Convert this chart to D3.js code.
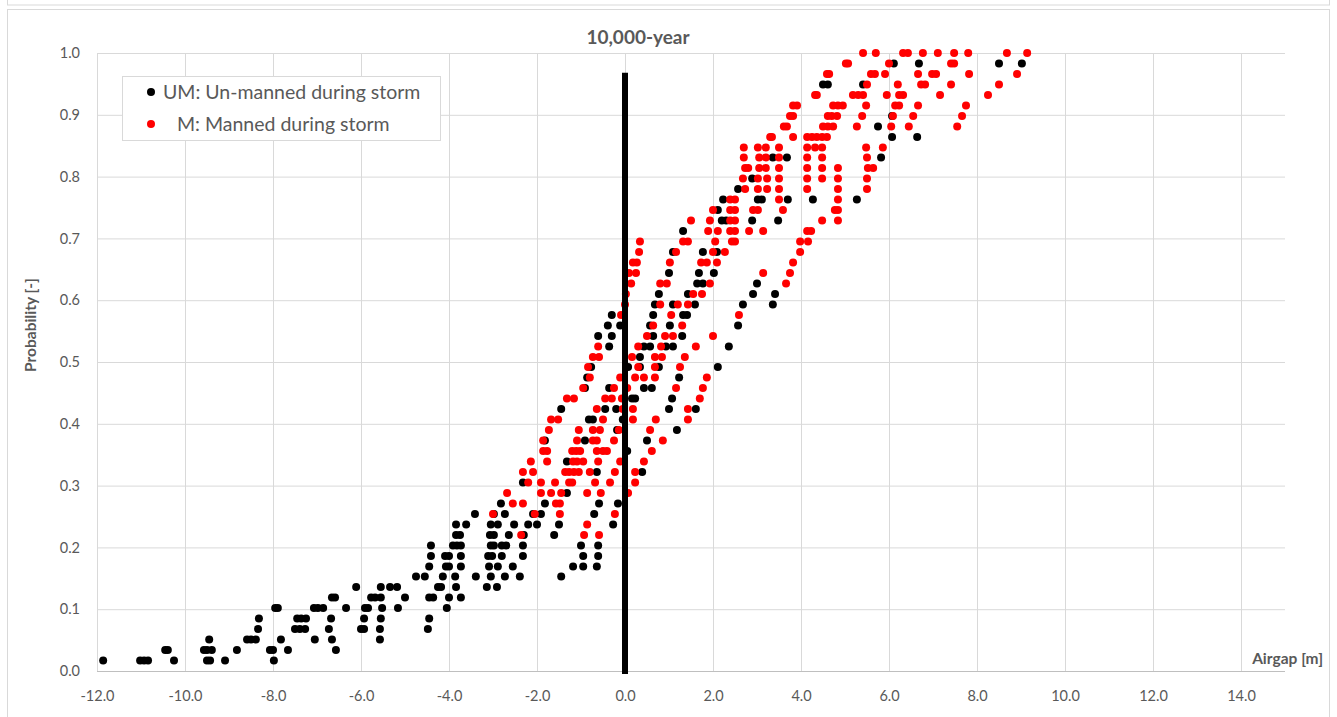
<!DOCTYPE html>
<html>
<head>
<meta charset="utf-8">
<script src="https://cdn.jsdelivr.net/npm/d3@7"></script>
<style>
	body { margin: 0; background: #fff; }
	svg { display: block; font-family: Lato, "Open Sans", sans-serif; }
</style>
</head>
<body>
<svg id="chart"></svg>
<script>
// probability levels (rows of the cumulative distribution, i/59)
const probLevels = [
	0.017, 0.034, 0.051, 0.068, 0.085, 0.102, 0.119, 0.136, 0.153, 0.169,
	0.186, 0.203, 0.220, 0.237, 0.254, 0.271, 0.288, 0.305, 0.322, 0.339,
	0.356, 0.373, 0.390, 0.407, 0.424, 0.441, 0.458, 0.475, 0.492, 0.508,
	0.525, 0.542, 0.559, 0.576, 0.593, 0.610, 0.627, 0.644, 0.661, 0.678,
	0.695, 0.712, 0.729, 0.746, 0.763, 0.780, 0.797, 0.814, 0.831, 0.847,
	0.864, 0.881, 0.898, 0.915, 0.932, 0.949, 0.966, 0.983, 1.000,
];

// UM: airgap values [m] found at each probability level
const umAirgap = [
	[-11.86, -11.02, -10.93, -10.84, -10.25, -9.5, -9.43, -9.09, -7.98],
	[-10.45, -10.39, -9.57, -9.5, -9.39, -8.82, -8.07, -8.0, -7.66, -6.57],
	[-9.45, -8.59, -8.5, -8.39, -7.82, -7.05, -6.66, -5.57],
	[-8.34, -7.5, -7.39, -7.27, -6.73, -6.0, -5.93, -5.57, -4.48],
	[-8.32, -7.45, -7.36, -7.25, -6.68, -5.93, -5.55, -4.45],
	[-7.95, -7.89, -7.07, -6.98, -6.86, -6.34, -5.91, -5.84, -5.52, -5.16, -4.05],
	[-6.66, -6.59, -5.77, -5.68, -5.55, -5.0, -4.45, -4.36, -4.0, -3.73],
	[-6.11, -5.55, -5.34, -5.18, -4.25, -4.18, -3.84, -3.14, -2.91],
	[-4.75, -4.55, -4.14, -3.86, -3.39, -3.05, -2.73, -2.39, -1.45],
	[-4.45, -4.07, -4.0, -3.73, -3.09, -2.89, -2.55, -1.18, -0.95, -0.64],
	[-4.41, -4.09, -4.0, -3.73, -3.11, -3.02, -2.8, -2.32, -0.95, -0.61],
	[-4.41, -3.91, -3.82, -3.73, -3.05, -2.98, -2.8, -2.7, -2.32, -1.0, -0.61],
	[-3.84, -3.75, -3.07, -2.98, -2.64, -2.3, -1.61],
	[-3.84, -3.61, -3.05, -2.89, -2.52, -2.2, -2.0, -1.5, -0.27],
	[-3.41, -2.98, -2.73, -2.09, -1.91, -0.7],
	[-2.82, -1.82, -0.59, -0.16],
	[-1.32],
	[-2.32],
	[-0.64, 0.39],
	[-1.32],
	[0.05],
	[-1.82, -0.91, 0.5],
	[-0.18, 1.18],
	[-0.82, -0.73, -0.05],
	[-1.45, -0.45, -0.2, 1.0, 1.61],
	[0.16, 0.23, 1.07],
	[-0.91, -0.36, 0.43, 0.61],
	[-0.86, 1.23],
	[-0.77, 0.07, 0.34, 0.77, 2.11],
	[0.34],
	[-0.36, 0.43, 0.57, 0.93, 1.09, 2.36],
	[-0.61, -0.3, 0.64, 1.3],
	[-0.39, -0.11, 0.57, 1.02, 2.57],
	[-0.3, 0.64, 1.32, 1.41],
	[0.68, 1.09, 1.59, 2.68, 3.36],
	[0.77, 1.43, 2.91, 3.41],
	[1.64, 1.77, 3.0],
	[1.0, 1.68, 2.02],
	[],
	[1.09, 1.77, 2.09],
	[],
	[1.32],
	[2.2, 2.3, 2.89, 3.48],
	[2.11],
	[2.23, 3.02, 3.11, 3.7, 4.27, 5.27],
	[2.57],
	[2.89],
	[],
	[3.36, 3.68, 5.82],
	[],
	[6.07, 6.64],
	[5.75],
	[6.07],
	[],
	[],
	[4.5, 4.61, 5.41],
	[],
	[6.11, 6.68, 8.5, 9.02],
	[],
];

// M: airgap values [m] found at each probability level
const mAirgap = [
	[], [], [], [], [], [], [], [], [], [], [], [],
	[-2.36, -0.93, -0.59],
	[-0.86],
	[-3.0, -2.05, -1.48, -0.23],
	[-2.55, -2.32, -1.57, -1.48],
	[-2.68, -1.91, -1.68, -1.45, -0.86, -0.55, 0.07],
	[-2.2, -1.91, -1.59, -1.27, -1.2, -0.68, -0.34, 0.23],
	[-2.32, -2.09, -1.36, -1.27, -1.16, -1.05, -0.8, -0.23, 0.23],
	[-2.14, -1.77, -1.18, -1.09, -0.95, -0.61, -0.11, 0.43],
	[-1.86, -1.77, -1.2, -1.11, -1.02, -0.64, -0.5, -0.41, 0.61],
	[-1.86, -1.09, -0.73, -0.64, -0.25, 0.86],
	[-1.73, -1.05, -0.73, -0.57, -0.14, 0.57],
	[-1.68, -1.52, -0.5, 0.18, 0.7, 1.43],
	[-0.64, -0.05, 0.18, 1.43],
	[-1.32, -1.16, -0.45, -0.3, -0.07, 1.7],
	[-0.95, -0.25, 0.05, 1.16, 1.77],
	[-0.8, -0.11, 0.23, 0.43, 0.68, 1.86],
	[-0.84, 0.3, 0.68, 1.25],
	[-0.73, -0.59, 0.16, 0.68, 0.84, 1.36],
	[-0.61, 0.3, 0.82, 1.61],
	[0.5, 0.91, 1.09, 2.0],
	[0.64, 1.3],
	[-0.09, 1.05, 2.59],
	[0.0, 0.8, 1.2, 1.43],
	[0.02, 1.55, 1.75],
	[0.14, 0.8, 0.95, 1.93, 3.66],
	[0.09, 0.25, 3.14, 3.75],
	[0.18, 0.27, 1.02, 1.73, 1.86, 2.09, 3.82],
	[0.32, 1.16, 2.0, 2.27, 3.98],
	[0.34, 1.32, 1.43, 2.05, 2.43, 2.5, 3.98, 4.16],
	[1.89, 2.11, 2.39, 2.5, 2.82, 3.14, 4.14, 4.23],
	[1.5, 1.93, 2.39, 2.5, 4.48, 4.84],
	[2.0, 2.39, 2.5, 2.91, 3.02, 3.59, 4.77, 4.84],
	[2.39, 2.5, 3.5, 4.84],
	[2.73, 3.02, 3.23, 3.5, 4.14, 4.84, 5.5],
	[2.68, 3.02, 3.23, 3.5, 4.14, 4.48, 4.84, 5.5],
	[2.73, 2.8, 3.05, 3.2, 3.5, 4.14, 4.48, 4.84, 5.52, 5.64],
	[2.7, 3.05, 3.2, 3.5, 4.14, 4.48, 5.5],
	[2.7, 3.02, 3.2, 3.5, 4.14, 4.32, 4.48, 5.48, 5.86],
	[3.3, 3.34, 3.82, 4.14, 4.25, 4.36, 4.48, 4.59],
	[3.61, 3.68, 4.5, 4.61, 4.73, 5.27, 6.05, 6.45, 7.55],
	[3.75, 3.82, 4.61, 4.7, 4.82, 5.39, 6.09, 6.55, 7.66],
	[3.82, 3.91, 4.73, 4.84, 4.95, 5.48, 6.14, 6.23, 6.66, 7.75],
	[4.32, 4.36, 5.18, 5.3, 5.41, 5.95, 6.23, 6.32, 7.16, 8.25],
	[5.5, 6.2, 6.73, 6.82, 7.41, 8.5],
	[4.59, 4.64, 5.59, 5.68, 5.91, 6.66, 6.98, 7.07, 7.82, 8.91],
	[5.02, 5.07, 6.0, 7.41, 7.48],
	[5.41, 5.7, 6.32, 6.43, 6.77, 7.11, 7.48, 7.8, 8.68, 9.14],
];

// the thick marker line at airgap = 0
const zeroLine = [[0, -0.005], [0, 0.968]];

const xTicks = [-12, -10, -8, -6, -4, -2, 0, 2, 4, 6, 8, 10, 12, 14];
const yTicks = [0, 0.1, 0.2, 0.3, 0.4, 0.5, 0.6, 0.7, 0.8, 0.9, 1.0];
const xDomain = [-12, 15];
const yDomain = [0, 1];

const chartTitle = "10,000-year";
const xTitle = "Airgap [m]";
const yTitle = "Probability [-]";
const legendLabels = ["UM: Un-manned during storm", "M: Manned during storm"];
const seriesColors = ["#000000", "#ff0000"];

const width = 1337;
const height = 717;
const textColor = "#595959";
const gridColor = "#d9d9d9";

const svg = d3.select("#chart").attr("width", width).attr("height", height);

// frames of the chart area (and the bottom of the one above it)
svg.append("rect")
	.attr("x", 7.5).attr("y", -20).attr("width", 1322).attr("height", 25)
	.attr("fill", "none").attr("stroke", gridColor);
svg.append("rect")
	.attr("x", 7.5).attr("y", 9.5).attr("width", 1322).attr("height", 730)
	.attr("fill", "#fff").attr("stroke", gridColor);

const x = d3.scaleLinear().domain(xDomain).range([97, 1285]);
const y = d3.scaleLinear().domain(yDomain).range([671, 53]);

//vertical gridlines + x tick labels
svg.append("g")
	.attr("transform", `translate(0, ${y(0)})`)
	.call(
		d3.axisBottom(x)
			.tickValues(xTicks)
			.tickSize(-(y(0) - y(1)))
			.tickPadding(20)
			.tickFormat((d) => d.toFixed(1))
	)
	.call((g) => g.select(".domain").remove())
	.call((g) => g.selectAll(".tick line").attr("stroke", gridColor))
	.call((g) =>
		g.selectAll(".tick text")
			.attr("fill", textColor)
			.attr("font-size", "14.5px")
			.attr("font-family", "Lato, sans-serif")
	);

//horizontal gridlines + y tick labels
svg.append("g")
	.attr("transform", `translate(${x(xDomain[0])}, 0)`)
	.call(
		d3.axisLeft(y)
			.tickValues(yTicks)
			.tickSize(-(x(xDomain[1]) - x(xDomain[0])))
			.tickPadding(17)
			.tickFormat((d) => d.toFixed(1))
	)
	.call((g) => g.select(".domain").remove())
	.call((g) => g.selectAll(".tick line").attr("stroke", gridColor))
	.call((g) =>
		g.selectAll(".tick text")
			.attr("fill", textColor)
			.attr("font-size", "14.5px")
			.attr("font-family", "Lato, sans-serif")
	);

// x axis line
svg.append("line")
	.attr("x1", x(xDomain[0])).attr("x2", x(xDomain[1]))
	.attr("y1", y(0) + 0.5).attr("y2", y(0) + 0.5)
	.attr("stroke", "#bfbfbf");

// dots, one group per series
const series = [umAirgap, mAirgap].map((rows, s) => ({
	color: seriesColors[s],
	points: rows.flatMap((vals, i) => vals.map((v) => ({ x: v, p: probLevels[i] }))),
}));

series.forEach((s) => {
	svg.append("g")
		.selectAll("circle")
		.data(s.points)
		.enter()
		.append("circle")
		.attr("cx", (d) => x(d.x))
		.attr("cy", (d) => y(d.p))
		.attr("r", 4)
		.attr("fill", s.color);
});

// thick line at 0
svg.append("path")
	.datum(zeroLine)
	.attr("fill", "none")
	.attr("stroke", "#000")
	.attr("stroke-width", 6)
	.attr("d", d3.line().x((d) => x(d[0])).y((d) => y(d[1])));

// legend
const legend = svg.append("g").attr("transform", "translate(122, 76)");
legend.append("rect")
	.attr("x", 0.5).attr("y", 0.5).attr("width", 318).attr("height", 64)
	.attr("fill", "#fff").attr("stroke", gridColor);
const legendTextX = [41, 55];
legendLabels.forEach((label, i) => {
	const row = legend.append("g").attr("transform", `translate(0, ${16 + i * 32})`);
	row.append("circle").attr("cx", 29).attr("cy", 0).attr("r", 4).attr("fill", seriesColors[i]);
	row.append("text")
		.attr("x", legendTextX[i]).attr("y", 7)
		.attr("fill", textColor)
		.attr("font-size", "19.5px")
		.text(label);
});

// titles
svg.append("text")
	.attr("x", 638).attr("y", 44)
	.attr("text-anchor", "middle")
	.attr("fill", textColor)
	.attr("font-size", "19px")
	.attr("font-weight", "bold")
	.text(chartTitle);

svg.append("text")
	.attr("transform", "translate(36, 325) rotate(-90)")
	.attr("text-anchor", "middle")
	.attr("fill", textColor)
	.attr("font-size", "15.5px")
	.attr("font-weight", "bold")
	.text(yTitle);

svg.append("text")
	.attr("x", 1323).attr("y", 664)
	.attr("text-anchor", "end")
	.attr("fill", textColor)
	.attr("font-size", "15.5px")
	.attr("font-weight", "bold")
	.text(xTitle);
</script>
</body>
</html>
